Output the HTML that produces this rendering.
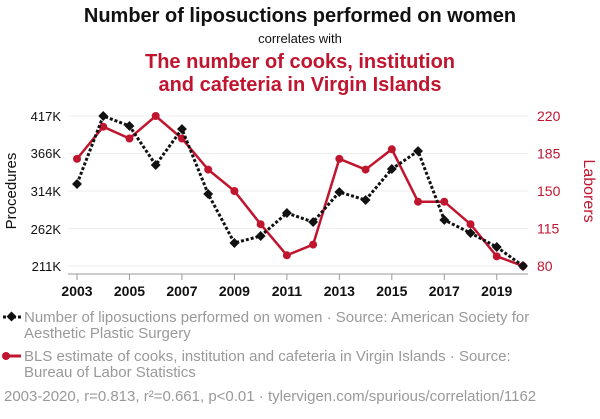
<!DOCTYPE html>
<html><head><meta charset="utf-8"><style>
body{margin:0;background:#fff;font-family:"Liberation Sans",sans-serif;}
svg text{font-family:"Liberation Sans",sans-serif;}
</style></head><body>
<svg id="c" width="600" height="414" xmlns="http://www.w3.org/2000/svg">
<text x="300" y="22" text-anchor="middle" font-size="20" font-weight="bold" fill="#111">Number of liposuctions performed on women</text>
<text x="300" y="43" text-anchor="middle" font-size="13" fill="#111">correlates with</text>
<text x="300" y="68" text-anchor="middle" font-size="20" font-weight="bold" fill="#c0152f">The number of cooks, institution</text>
<text x="300" y="91" text-anchor="middle" font-size="20" font-weight="bold" fill="#c0152f">and cafeteria in Virgin Islands</text>
<g id="grid"></g><g id="axes"></g><g id="marks"></g>
<text transform="translate(16,191) rotate(-90)" text-anchor="middle" font-size="15" fill="#111">Procedures</text>
<text transform="translate(584,191) rotate(90)" text-anchor="middle" font-size="16" fill="#c0152f">Laborers</text>
<g>
<line x1="3" y1="317" x2="21" y2="317" stroke="#111" stroke-width="3" stroke-dasharray="3,2"/>
<rect x="8" y="313" width="7" height="7" fill="#111" transform="rotate(45 11.5 316.5)"/>
<text x="24" y="322" font-size="15" fill="#999">Number of liposuctions performed on women · Source: American Society for</text>
<text x="24" y="338" font-size="15" fill="#999">Aesthetic Plastic Surgery</text></g>
<g>
<line x1="3" y1="356" x2="21" y2="356" stroke="#c0152f" stroke-width="3"/>
<circle cx="6" cy="356" r="4" fill="#c0152f"/>
<text x="24" y="361" font-size="15" fill="#999">BLS estimate of cooks, institution and cafeteria in Virgin Islands · Source:</text>
<text x="24" y="377" font-size="15" fill="#999">Bureau of Labor Statistics</text></g>
<text x="4" y="401" font-size="15" fill="#999">2003-2020, r=0.813, r²=0.661, p&lt;0.01 · tylervigen.com/spurious/correlation/1162</text>
</svg>
<script>
const years=[2003,2004,2005,2006,2007,2008,2009,2010,2011,2012,2013,2014,2015,2016,2017,2018,2019,2020];
const procedures=[323.6,417,403.3,349.7,399.1,309.9,242.6,252.2,283.8,271.4,312.6,301.6,344.2,368.9,274.2,256.3,237.1,211];
const laborers=[180,210,199,220,199,170,150,119,90,100,180,170,189,140,140,119,89,80];
const leftTicks=[211,262,314,366,417];
const rightTicks=[80,115,150,185,220];
const xTicks=[2003,2005,2007,2009,2011,2013,2015,2017,2019];
const NS="http://www.w3.org/2000/svg";
const X=y=>77+(y-2003)*(523-77)/17;
const YL=v=>266-(v-211)*150/206;
const YR=v=>266-(v-80)*150/140;
function mk(t,a,p){const e=document.createElementNS(NS,t);for(const k in a)e.setAttribute(k,a[k]);p.appendChild(e);return e;}
const grid=document.getElementById('grid'),axes=document.getElementById('axes'),marks=document.getElementById('marks');
rightTicks.forEach((v,i)=>{
 const g=mk('line',{x1:68,x2:528,y1:YR(v),y2:YR(v),stroke:'#eee','stroke-width':1},grid);
 
 
 const t=mk('text',{x:537,y:YR(v)+5,'font-size':14,fill:'#c0152f'},axes);t.textContent=v;
 
 
});
leftTicks.forEach(v=>{
 const t=mk('text',{x:61,y:YL(v)+5,'font-size':13,fill:'#111','text-anchor':'end'},axes);t.textContent=v+'K';
 
 
});
const ax=mk('line',{x1:68,x2:528,y1:274,y2:274,stroke:'#999'},axes);


xTicks.forEach(y=>{
 mk('line',{x1:X(y),x2:X(y),y1:274,y2:280,stroke:'#999'},axes);
 const t=mk('text',{x:X(y),y:296,'font-size':14,'font-weight':'bold',fill:'#111','text-anchor':'middle'},axes);t.textContent=y;
 
 
});
const rl=mk('polyline',{points:years.map((y,i)=>X(y)+','+YR(laborers[i])).join(' '),fill:'none',stroke:'#c0152f','stroke-width':2.5},marks);


years.forEach((y,i)=>{const c=mk('circle',{cx:X(y),cy:YR(laborers[i]),r:4,fill:'#c0152f'},marks);
 
 });
const bl=mk('polyline',{points:years.map((y,i)=>X(y)+','+YL(procedures[i])).join(' '),fill:'none',stroke:'#111','stroke-width':3,'stroke-dasharray':'3,2'},marks);


years.forEach((y,i)=>{const cx=X(y),cy=YL(procedures[i]);
 const r=mk('rect',{x:cx-3.5,y:cy-3.5,width:7,height:7,fill:'#111',transform:`rotate(45 ${cx} ${cy})`},marks);
 
 });
</script>
</body></html>
